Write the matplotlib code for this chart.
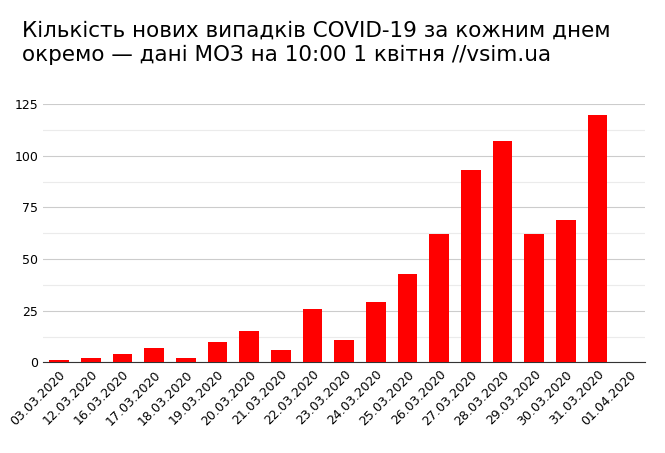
import matplotlib
matplotlib.use("Agg")
import matplotlib.pyplot as plt
import numpy as np

dates = ["03.03.2020", "12.03.2020", "16.03.2020", "17.03.2020", "18.03.2020",
         "19.03.2020", "20.03.2020", "21.03.2020", "22.03.2020", "23.03.2020",
         "24.03.2020", "25.03.2020", "26.03.2020", "27.03.2020", "28.03.2020",
         "29.03.2020", "30.03.2020", "31.03.2020", "01.04.2020"]
new_cases = [1, 2, 4, 7, 2, 10, 15, 6, 26, 11, 29, 43, 62, 93, 107, 62, 69, 120, 0]

fig = plt.figure(figsize=(6.65, 4.53), dpi=100)
ax = fig.add_axes([0.065, 0.2, 0.905, 0.57])

x = np.arange(len(dates))
ax.bar(x, new_cases, width=0.62, color="#ff0000", zorder=3)

ax.set_xlim(-0.5, len(dates) - 0.5)
ax.set_ylim(0, 125)
ax.set_yticks([0, 25, 50, 75, 100, 125])
ax.set_yticks(np.arange(12.5, 125, 25), minor=True)
ax.grid(axis="y", which="major", color="#cccccc", lw=0.8, zorder=0)
ax.grid(axis="y", which="minor", color="#ebebeb", lw=0.8, zorder=0)
ax.set_xticks(x)
ax.set_xticklabels(dates, rotation=45, ha="right", rotation_mode="anchor", fontsize=9)
ax.tick_params(axis="y", labelsize=9, length=0, which="both")
ax.tick_params(axis="x", length=0, pad=4)
for s in ["top", "right", "left"]:
    ax.spines[s].set_visible(False)
ax.spines["bottom"].set_color("#333333")

fig.text(0.033, 0.955, "Кількість нових випадків COVID-19 за кожним днем\nокремо — дані МОЗ на 10:00 1 квітня //vsim.ua",
         fontsize=15.5, va="top", ha="left", linespacing=1.3)

fig.savefig("out.png", dpi=100)
